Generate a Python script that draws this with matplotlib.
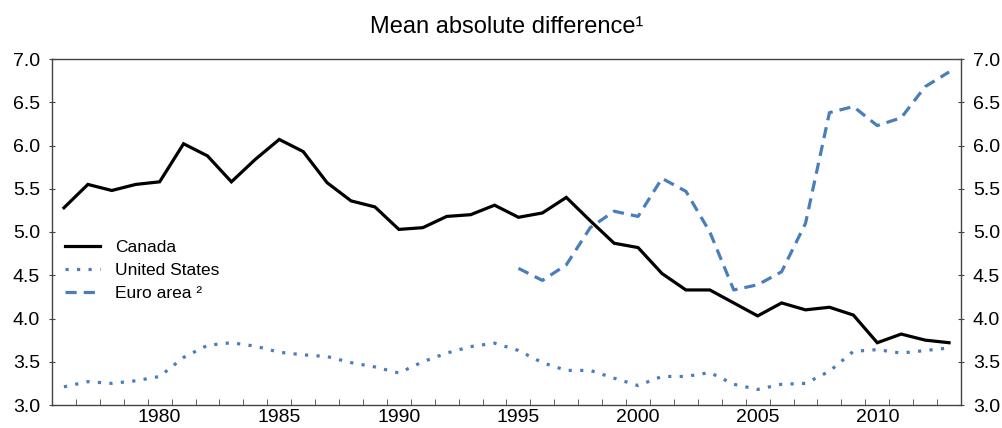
import matplotlib
matplotlib.use("Agg")
import matplotlib.pyplot as plt
import numpy as np

plt.rcParams['font.family'] = ['Liberation Sans', 'DejaVu Sans']

years = list(range(1976, 2014))
canada = [5.28, 5.55, 5.48, 5.55, 5.58, 6.02, 5.88, 5.58, 5.84, 6.07,
          5.93, 5.57, 5.36, 5.29, 5.03, 5.05, 5.18, 5.20, 5.31, 5.17,
          5.22, 5.40, 5.13, 4.87, 4.82, 4.52, 4.33, 4.33, 4.18, 4.03,
          4.18, 4.10, 4.13, 4.04, 3.72, 3.82, 3.75, 3.72]
united_states = [3.21, 3.27, 3.25, 3.28, 3.33, 3.55, 3.69, 3.72, 3.68, 3.61,
                 3.58, 3.56, 3.49, 3.44, 3.37, 3.50, 3.60, 3.675, 3.715, 3.63,
                 3.49, 3.40, 3.40, 3.31, 3.225, 3.33, 3.33, 3.375, 3.24, 3.18,
                 3.24, 3.25, 3.39, 3.62, 3.64, 3.60, 3.63, 3.66]
euro_years = list(range(1995, 2014))
euro_area = [4.58, 4.44, 4.62, 5.05, 5.24, 5.18, 5.62, 5.47, 5.00, 4.33,
             4.39, 4.54, 5.10, 6.38, 6.45, 6.23, 6.32, 6.68, 6.85]

labels = ["Canada", "United States", "Euro area ²"]
title = "Mean absolute difference¹"
yticks = [3.0, 3.5, 4.0, 4.5, 5.0, 5.5, 6.0, 6.5, 7.0]
xlabels = [1980, 1985, 1990, 1995, 2000, 2005, 2010]

blue = "#4a7ebb"

fig = plt.figure(figsize=(10.02, 4.28), dpi=100)
ax = fig.add_axes([52/1002, 23/428, (961-52)/1002, (405-59)/428])

ax.plot(years, canada, color="black", lw=2.3, label=labels[0], solid_joinstyle="miter")
ax.plot(years, united_states, color=blue, lw=2.3, linestyle=(0, (1, 2.6)), label=labels[1])
ax.plot(euro_years, euro_area, color=blue, lw=2.3, linestyle=(0, (3.5, 2.2)), label=labels[2])

ax.set_xlim(1975.5, 2013.5)
ax.set_ylim(3.0, 7.0)

ax.set_xticks(np.arange(1975.5, 2014, 1.0), minor=True)
ax.set_xticks(xlabels)
ax.set_xticklabels([str(x) for x in xlabels], fontsize=14)
ax.tick_params(axis='x', which='major', length=0, pad=3)
ax.tick_params(axis='x', which='minor', direction='in', length=4, color='#444444')

ax.set_yticks(yticks)
ax.set_yticklabels([f"{v:.1f}" for v in yticks], fontsize=14)
ax.tick_params(axis='y', which='major', direction='inout', length=5, color='#444444',
               left=True, right=True, labelleft=True, labelright=True, pad=6)

for s in ax.spines.values():
    s.set_color('#444444')
    s.set_linewidth(1.0)

ax.set_title(title, fontsize=17, pad=19)

leg = ax.legend(loc='center left', bbox_to_anchor=(0.0, 0.39), frameon=False,
                fontsize=12.5, handlelength=2.0, handletextpad=0.9,
                labelspacing=0.45, borderaxespad=0.35)

fig.savefig("out.png", dpi=100)
